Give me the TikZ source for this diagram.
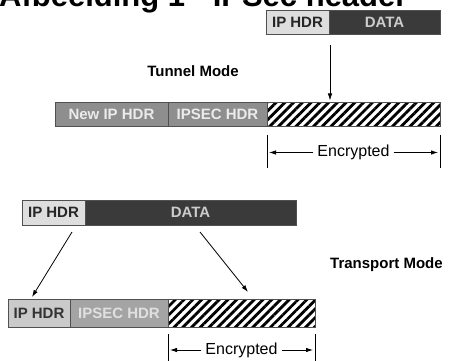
\documentclass[tikz,border=0pt]{standalone}
\usepackage{fontspec}
\setmainfont{Liberation Sans}
\usetikzlibrary{arrows.meta,calc,patterns.meta}
\definecolor{lightseg}{HTML}{DEDEDE}
\definecolor{darkseg}{HTML}{3A3A3A}
\definecolor{midseg}{HTML}{8E8E8E}
\definecolor{midseg2}{HTML}{A4A4A4}
\definecolor{lightseg2}{HTML}{CACACA}
\definecolor{segborder}{HTML}{505050}
\begin{document}
\begin{tikzpicture}[x=1pt,y=-1pt,
  seg/.style={draw=segborder, line width=0.9pt, rectangle, inner sep=0pt, outer sep=0pt,
    minimum height=24pt, anchor=west, font=\bfseries\fontsize{15}{15}\selectfont},
  lightbox/.style={seg, fill=lightseg, text=black!85},
  darkbox/.style={seg, fill=darkseg, text=black!20},
  midbox/.style={seg, fill=midseg, text=black!8},
  midbox2/.style={seg, fill=midseg2, text=black!12},
  lightbox2/.style={seg, fill=lightseg2, text=black!80},
  hatchbox/.style={seg, preaction={fill=white},
    pattern={Lines[angle=45,distance=6.2pt,line width=2.8pt]}, pattern color=black, text=black!70},
  modelabel/.style={font=\bfseries\fontsize{15}{15}\selectfont, inner sep=0pt},
  enc/.style={font=\fontsize{16}{16}\selectfont, inner sep=4pt},
  arr/.style={-{Latex[length=7pt,width=4.5pt]}, line width=0.8pt},
  bar/.style={line width=0.9pt}
]
\useasboundingbox (0,0) rectangle (450,361);
\clip (0,0) rectangle (450,361);
\fill[white] (0,0) rectangle (450,361);

% title (top cut off, as in the reference)
\node[anchor=base west, inner sep=0pt, font=\bfseries\fontsize{31}{31}\selectfont] (title) at (-1,7) {Afbeelding 1 - IPSec header};

% top packet
\node[lightbox, minimum width=63pt] (tip) at (266,22.5) {IP HDR};
\node[darkbox, minimum width=111pt] (tdata) at (tip.east) {DATA};

% tunnel mode packet
\node[modelabel] (tunnel) at (193,71) {Tunnel Mode};
\node[midbox, minimum width=113pt] (tnip) at (55,114.5) {New IP HDR};
\node[midbox, minimum width=99pt] (tipsec) at (tnip.east) {IPSEC HDR};
\node[hatchbox, minimum width=173pt] (thatch) at (tipsec.east) {};

\draw[arr] ($(tip.south east)+(1,11)$) -- ($(thatch.north west -| tip.south east)+(1,-2)$);

% tunnel encrypted bracket
\coordinate (tLa) at ($(thatch.south west)+(0,8)$);
\coordinate (tLb) at ($(thatch.south west)+(0,41)$);
\coordinate (tRa) at ($(thatch.south east)+(0,8)$);
\coordinate (tRb) at ($(thatch.south east)+(0,41)$);
\draw[bar] (tLa) -- (tLb);
\draw[bar] (tRa) -- (tRb);
\node[enc] (tenc) at ($(thatch.south)+(0,26)$) {Encrypted};
\draw[arr] (tenc.west) -- ($(tenc.west -| tLa)+(2,0)$);
\draw[arr] (tenc.east) -- ($(tenc.east -| tRa)+(-2,0)$);

% transport mode
\node[lightbox, minimum width=63pt, minimum height=25pt] (pip) at (22,212.5) {IP HDR};
\node[darkbox, minimum width=211pt, minimum height=25pt] (pdata) at (pip.east) {DATA};
\node[modelabel, anchor=west] (transport) at (330,265) {Transport Mode};

\node[lightbox2, minimum width=62pt, minimum height=28pt] (bip) at (8,313) {IP HDR};
\node[midbox2, minimum width=98pt, minimum height=28pt] (bipsec) at (bip.east) {IPSEC HDR};
\node[hatchbox, minimum width=147pt, minimum height=28pt] (bhatch) at (bipsec.east) {};

\coordinate (s1) at (72,232);
\coordinate (s2) at (200,232);
\draw[arr] (s1) -- ($(bip.north west)+(24,-2)$);
\draw[arr] (s2) -- ($(bhatch.north west)+(80,-7)$);

% transport encrypted bracket
\coordinate (bLa) at ($(bhatch.south west)+(0,7)$);
\coordinate (bLb) at ($(bhatch.south west)+(0,36)$);
\coordinate (bRa) at ($(bhatch.south east)+(0,7)$);
\coordinate (bRb) at ($(bhatch.south east)+(0,36)$);
\draw[bar] (bLa) -- (bLb);
\draw[bar] (bRa) -- (bRb);
\node[enc] (benc) at ($(bhatch.south)+(0,23)$) {Encrypted};
\draw[arr] (benc.west) -- ($(benc.west -| bLa)+(2,0)$);
\draw[arr] (benc.east) -- ($(benc.east -| bRa)+(-2,0)$);
\end{tikzpicture}
\end{document}
